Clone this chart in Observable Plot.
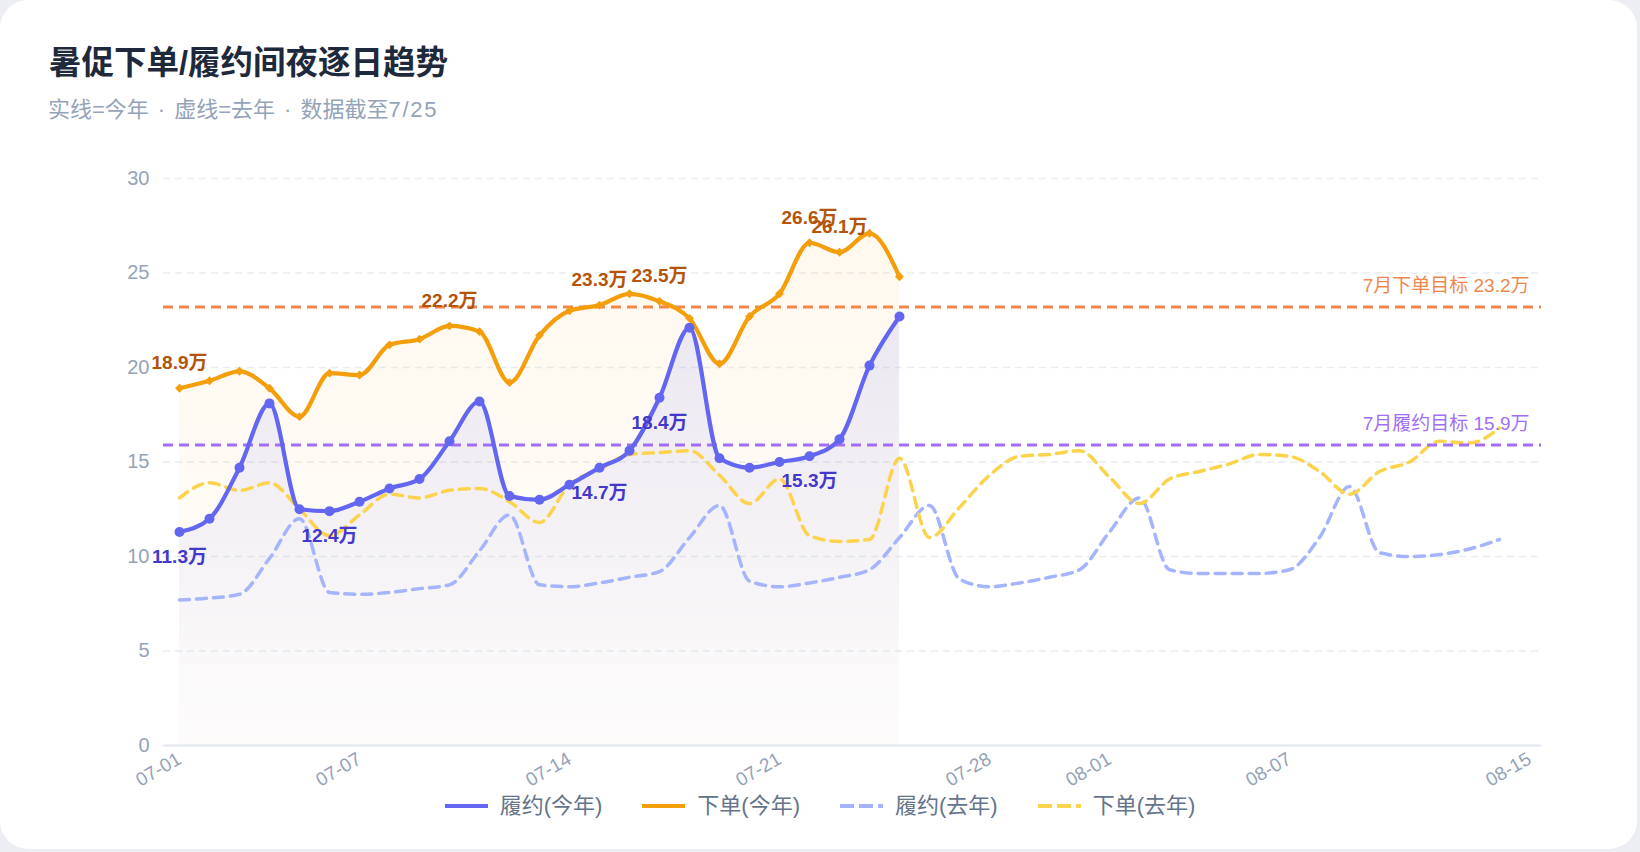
<!DOCTYPE html>
<html><head><meta charset="utf-8">
<script src="https://cdn.jsdelivr.net/npm/d3@7"></script>
<script src="https://cdn.jsdelivr.net/npm/@observablehq/plot@0.6"></script>
<style>
html,body{margin:0;padding:0;width:1640px;height:852px;background:#eceef3;overflow:hidden;font-family:"Liberation Sans","Noto Sans CJK SC",sans-serif;}
.card{position:absolute;left:0;top:0;width:1637px;height:849px;background:#fff;border-radius:28px;}
.title{position:absolute;left:49px;top:44px;font-size:32.5px;font-weight:700;color:#1e293b;line-height:38px;white-space:nowrap;}
.sub{position:absolute;left:48px;top:97px;font-size:22px;color:#94a3b8;line-height:26px;white-space:nowrap;}
.sub .sep{margin:0 9px;}
.sub .num{letter-spacing:1.8px;}
#chart{position:absolute;left:0;top:150px;}
.legend{position:absolute;left:0;width:1640px;top:791px;display:flex;justify-content:center;gap:40px;font-size:22px;color:#64748b;line-height:30px;}
.item{display:flex;align-items:center;gap:12px;}
</style></head>
<body>
<div class="card"></div>
<div class="title">暑促下单/履约间夜逐日趋势</div>
<div class="sub">实线=今年<span class="sep">·</span>虚线=去年<span class="sep">·</span>数据截至<span class="num">7/25</span></div>
<div id="chart"></div>
<div class="legend" id="legend"></div>
<script>
// ---- data ----
const days = ["07-01","07-02","07-03","07-04","07-05","07-06","07-07","07-08","07-09","07-10",
  "07-11","07-12","07-13","07-14","07-15","07-16","07-17","07-18","07-19","07-20",
  "07-21","07-22","07-23","07-24","07-25","07-26","07-27","07-28","07-29","07-30",
  "07-31","08-01","08-02","08-03","08-04","08-05","08-06","08-07","08-08","08-09",
  "08-10","08-11","08-12","08-13","08-14"];
const xTicks = ["07-01","07-07","07-14","07-21","07-28","08-01","08-07","08-15"];
const xStart = "07-01", xEnd = "08-15";
// 今年 (07-01 .. 07-25), 万间夜
const fulThisYear = [11.3,12.0,14.7,18.1,12.5,12.4,12.9,13.6,14.1,16.1,18.2,13.2,13.0,13.8,14.7,15.6,18.4,22.1,15.2,14.7,15.0,15.3,16.2,20.1,22.7];
const ordThisYear = [18.9,19.3,19.8,18.9,17.4,19.7,19.6,21.2,21.5,22.2,21.9,19.2,21.7,23.0,23.3,23.9,23.5,22.6,20.2,22.7,23.9,26.6,26.1,27.1,24.8];
// 去年 (07-01 .. 08-14)
const fulLastYear = [7.7,7.8,8.0,9.9,12.0,8.1,8.0,8.1,8.3,8.5,10.3,12.2,8.5,8.4,8.6,8.9,9.2,11.0,12.7,8.7,8.4,8.6,8.9,9.3,11.0,12.7,8.8,8.4,8.6,8.9,9.3,11.3,13.1,9.3,9.1,9.1,9.1,9.3,11.0,13.7,10.2,10.0,10.1,10.4,10.9];
const ordLastYear = [13.1,13.9,13.5,13.9,12.5,11.1,12.2,13.3,13.1,13.5,13.6,12.9,11.8,13.8,14.6,15.4,15.5,15.6,14.3,12.8,14.1,11.1,10.8,10.9,15.2,11.0,12.6,14.3,15.3,15.4,15.6,14.2,12.8,14.1,14.5,14.9,15.4,15.3,14.5,13.3,14.5,15.0,16.1,16.0,16.8];
const ordLabelDays = ["07-01","07-10","07-15","07-17","07-22","07-23"];
const fulLabelDays = ["07-01","07-06","07-15","07-17","07-22"];
const ordTarget = 23.2, fulTarget = 15.9;
const yTicks = [0,5,10,15,20,25,30];

const C = {ful:"#6366f1", ord:"#f59e0b", fulLY:"#a5b4fc", ordLY:"#fcd34d",
  ordTarget:"#f0884e", fulTarget:"#a36ef5", ordLabel:"#b45309", fulLabel:"#4338ca"};

const parse = s => new Date(`2024-${s}T00:00:00Z`);
const thisYear = fulThisYear.map((v,i)=>({date:parse(days[i]), day:days[i], ful:v, ord:ordThisYear[i]}));
const lastYear = fulLastYear.map((v,i)=>({date:parse(days[i]), ful:v, ord:ordLastYear[i]}));
const ordLabels = thisYear.filter(d=>ordLabelDays.includes(d.day));
const fulLabels = thisYear.filter(d=>fulLabelDays.includes(d.day));
const fmt = v => `${v.toFixed(1)}万`;

const defs = () => {
  const g = d3.create("svg:defs");
  const mk = (id, color, a, b) => {
    const lg = g.append("linearGradient").attr("id", id).attr("x1",0).attr("y1",0).attr("x2",0).attr("y2",1);
    lg.append("stop").attr("offset","0%").attr("stop-color",color).attr("stop-opacity",a);
    lg.append("stop").attr("offset","100%").attr("stop-color",color).attr("stop-opacity",b);
  };
  mk("gO", C.ord, 0.07, 0.015);
  mk("gP", C.ful, 0.12, 0.01);
  return g.node();
};

const font = '"Liberation Sans","Noto Sans CJK SC",sans-serif';
const curve = "monotone-x";
const chart = Plot.plot({
  width:1640, height:640,
  marginLeft:163, marginRight:99, marginTop:28, marginBottom:45,
  style:{fontFamily:font, background:"transparent", overflow:"visible"},
  x:{type:"utc", domain:[parse(xStart), parse(xEnd)], insetLeft:16, insetRight:12, label:null},
  y:{domain:[0,30], label:null},
  marks:[
    defs,
    Plot.gridY({ticks:yTicks.filter(t=>t>0), stroke:"#e8edf4", strokeOpacity:1, strokeWidth:1.5, strokeDasharray:"7,5"}),
    Plot.areaY(thisYear, {x:"date", y:"ord", fill:"url(#gO)", curve}),
    Plot.areaY(thisYear, {x:"date", y:"ful", fill:"url(#gP)", curve}),
    Plot.ruleY([0], {stroke:"#e2e6f0", strokeWidth:2}),
    Plot.axisY({ticks:yTicks, tickSize:0, tickPadding:14, fontSize:20, fill:"#94a3b8", label:null}),
    Plot.axisX({ticks:xTicks.map(parse), tickFormat:d3.utcFormat("%m-%d"), tickRotate:-30, tickSize:0, tickPadding:12, fontSize:19, fill:"#94a3b8", label:null}),
    Plot.lineY(lastYear, {x:"date", y:"ful", stroke:C.fulLY, strokeWidth:3.5, strokeDasharray:"10,7", curve}),
    Plot.lineY(lastYear, {x:"date", y:"ord", stroke:C.ordLY, strokeWidth:3.5, strokeDasharray:"10,7", curve}),
    Plot.ruleY([ordTarget], {stroke:C.ordTarget, strokeWidth:2.8, strokeDasharray:"10,6"}),
    Plot.ruleY([fulTarget], {stroke:C.fulTarget, strokeWidth:2.8, strokeDasharray:"10,6"}),
    Plot.lineY(thisYear, {x:"date", y:"ful", stroke:C.ful, strokeWidth:4.2, curve}),
    Plot.lineY(thisYear, {x:"date", y:"ord", stroke:C.ord, strokeWidth:4.2, curve}),
    Plot.dot(thisYear, {x:"date", y:"ful", r:5, fill:C.ful}),
    Plot.dot(thisYear, {x:"date", y:"ord", r:4, symbol:"diamond2", fill:C.ord}),
    Plot.text(ordLabels, {x:"date", y:"ord", text:d=>fmt(d.ord), dy:-25, fill:C.ordLabel, fontWeight:700, fontSize:19}),
    Plot.text(fulLabels, {x:"date", y:"ful", text:d=>fmt(d.ful), dy:25, fill:C.fulLabel, fontWeight:700, fontSize:19}),
    Plot.text([{v:ordTarget, t:`7月下单目标 ${ordTarget}万`, c:C.ordTarget}, {v:fulTarget, t:`7月履约目标 ${fulTarget}万`, c:C.fulTarget}],
      {x:()=>parse(xEnd), y:"v", text:"t", fill:"c", dy:-21, textAnchor:"end", fontSize:19})
  ]
});
document.getElementById("chart").appendChild(chart);

// legend
const items = [
  {name:"履约(今年)", color:C.ful, dash:null},
  {name:"下单(今年)", color:C.ord, dash:null},
  {name:"履约(去年)", color:C.fulLY, dash:"14 5"},
  {name:"下单(去年)", color:C.ordLY, dash:"14 5"}
];
const lg = d3.select("#legend");
items.forEach(it=>{
  const d = lg.append("div").attr("class","item");
  const s = d.append("svg").attr("width",43).attr("height",8);
  s.append("line").attr("x1",0).attr("x2",43).attr("y1",4).attr("y2",4)
    .attr("stroke",it.color).attr("stroke-width",4).attr("stroke-dasharray",it.dash);
  d.append("span").text(it.name);
});
</script>
</body></html>
